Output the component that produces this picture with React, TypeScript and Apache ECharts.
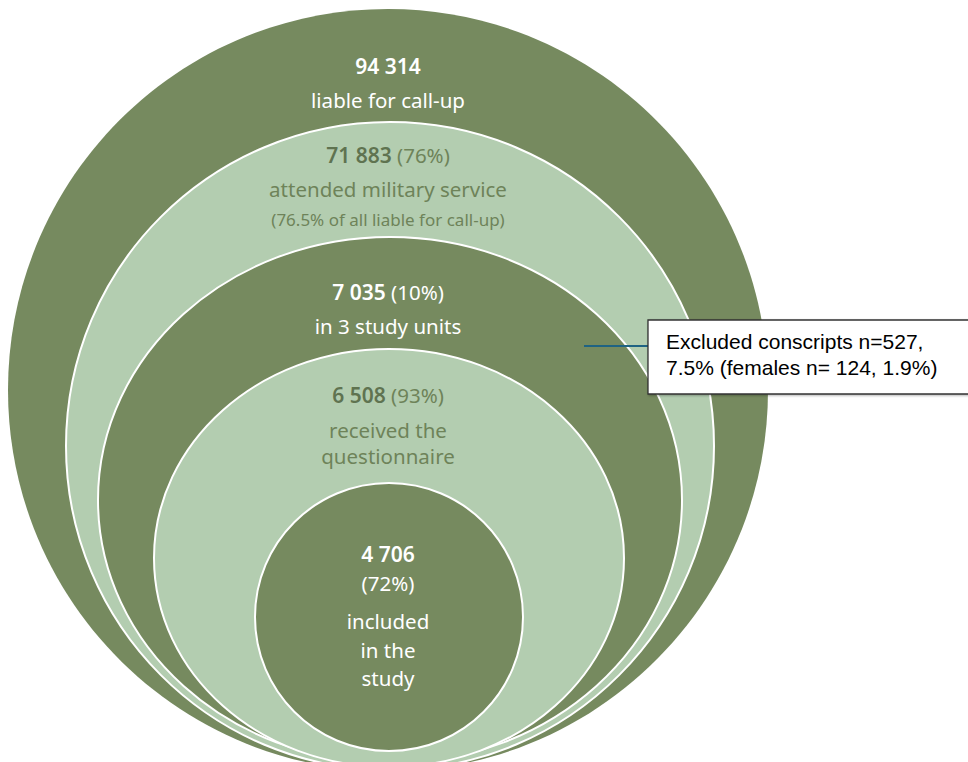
import React, { useEffect, useRef } from "react";
import * as echarts from "echarts";

// ---- data ----
const counts = [94314, 71883, 7035, 6508, 4706];
const percents = ["", "76%", "10%", "93%", "72%"];
const labels = [
  ["liable for call-up"],
  ["attended military service"],
  ["in 3 study units"],
  ["received the", "questionnaire"],
  ["included", "in the", "study"],
];
const notes = ["", "(76.5% of all liable for call-up)", "", "", ""];
const calloutLines = ["Excluded conscripts n=527,", "7.5% (females n= 124, 1.9%)"];

// ---- layout (pixels) ----
const ellipses = [
  { cx: 388, cy: 390, rx: 380, ry: 381 },
  { cx: 390, cy: 446, rx: 324, ry: 324 },
  { cx: 390, cy: 500, rx: 292, ry: 263 },
  { cx: 389, cy: 558, rx: 235, ry: 209 },
  { cx: 389, cy: 617, rx: 134, ry: 134 },
];
const DARK = "#768a5f";
const LIGHT = "#b3cdb0";
const TEXT_ON_LIGHT = "#6e8359";
const BOLD_ON_LIGHT = "#5f7350";
const FONT = "'Noto Sans', sans-serif";

const fmt = (n: number) => String(n).replace(/\B(?=(\d{3})+(?!\d))/g, " ");

export default function App() {
  const ref = useRef<HTMLDivElement>(null);
  useEffect(() => {
    document.body.style.margin = "0";
    const chart = echarts.init(ref.current!, null, { renderer: "svg" });
    const g: any[] = [];
    ellipses.forEach((e, i) => {
      g.push({
        type: "ellipse",
        shape: { cx: e.cx, cy: e.cy, rx: e.rx, ry: e.ry },
        style: {
          fill: i % 2 === 0 ? DARK : LIGHT,
          stroke: i === 0 ? null : "#ffffff",
          lineWidth: i === 0 ? 0 : 2,
        },
        z: 1 + i,
      });
    });
    const textAt = (x: number, y: number, text: string, rich: any, z = 20) => ({
      type: "text",
      x,
      y,
      z,
      style: { text, rich, align: "center", verticalAlign: "middle", fontFamily: FONT },
    });
    const layoutY = [
      { num: 66, lab: [100], note: 0 },
      { num: 155, lab: [189], note: 219 },
      { num: 292, lab: [326], note: 0 },
      { num: 395, lab: [430, 456], note: 0 },
      { num: 554, lab: [621, 650, 678], pct2: 583, note: 0 },
    ];
    counts.forEach((c, i) => {
      const onLight = i % 2 === 1;
      const col = onLight ? TEXT_ON_LIGHT : "#ffffff";
      const bcol = onLight ? BOLD_ON_LIGHT : "#ffffff";
      const rich = {
        b: { fontFamily: FONT, fontSize: 21, fontWeight: 600, fill: bcol, color: bcol },
        r: { fontFamily: FONT, fontSize: 20.5, fill: col, color: col },
        s: { fontFamily: FONT, fontSize: 17, fill: col, color: col },
      };
      const L: any = layoutY[i];
      const p = percents[i];
      if (L.pct2) {
        g.push(textAt(388, L.num, `{b|${fmt(c)}}`, rich));
        g.push(textAt(388, L.pct2, `{r|(${p})}`, rich));
      } else {
        g.push(textAt(388, L.num, `{b|${fmt(c)}}` + (p ? `{r| (${p})}` : ""), rich));
      }
      labels[i].forEach((t, k) => g.push(textAt(388, L.lab[k], `{r|${t}}`, rich)));
      if (notes[i]) g.push(textAt(388, L.note, `{s|${notes[i]}}`, rich));
    });
    // callout
    g.push({
      type: "line",
      shape: { x1: 584, y1: 346, x2: 648, y2: 346 },
      style: { stroke: "#1f6383", lineWidth: 2 },
      z: 30,
    });
    g.push({
      type: "rect",
      shape: { x: 648, y: 320, width: 330, height: 74 },
      style: { fill: "#ffffff", stroke: "#333333", lineWidth: 1.3, shadowBlur: 2, shadowOffsetX: 1, shadowOffsetY: 1, shadowColor: "rgba(0,0,0,0.3)" },
      z: 31,
    });
    calloutLines.forEach((t, k) =>
      g.push({
        type: "text",
        x: 666,
        y: 341 + k * 26,
        z: 32,
        style: { text: t, fill: "#000000", fontSize: 21, fontFamily: "'Liberation Sans', Arial, sans-serif", verticalAlign: "middle", align: "left" },
      })
    );
    chart.setOption({ animation: false, graphic: { elements: g } });
    return () => chart.dispose();
  }, []);
  return <div ref={ref} style={{ width: 968, height: 762 }} />;
}
